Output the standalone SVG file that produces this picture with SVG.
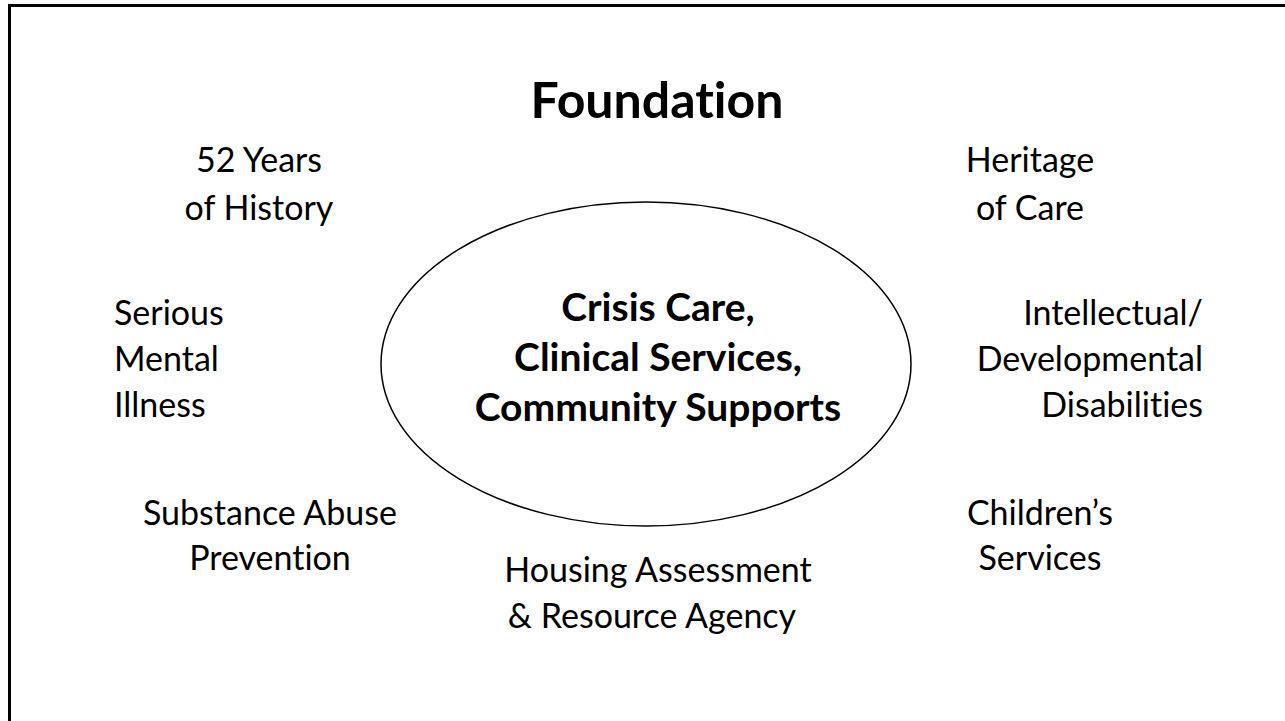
<svg xmlns="http://www.w3.org/2000/svg" width="1285" height="721" viewBox="0 0 1285 721">
<style>
.t{font-family:Lato,"Liberation Sans",sans-serif;font-size:34px;fill:#000;font-variant-ligatures:none}
.b{font-family:Lato,"Liberation Sans",sans-serif;font-weight:bold;fill:#000;font-variant-ligatures:none}
.m{text-anchor:middle}
.e{text-anchor:end}
</style>
<rect width="1285" height="721" fill="#fff"/>
<g id="frame">
<path d="M9.5,721 V5.5 H1285" fill="none" stroke="#000" stroke-width="3"/>
</g>
<g id="title"><text class="b m" x="657" y="118" font-size="50">Foundation</text></g>
<g id="center">
<ellipse cx="646" cy="364" rx="265" ry="162" fill="none" stroke="#000" stroke-width="1.5"/>
<text class="b m" x="658" y="321" font-size="39">Crisis Care,</text>
<text class="b m" x="658" y="371" font-size="39">Clinical Services,</text>
<text class="b m" x="658" y="421" font-size="39">Community Supports</text>
</g>
<g id="history"><text class="t m" x="259" y="172">52 Years</text><text class="t m" x="259" y="220">of History</text></g>
<g id="heritage"><text class="t m" x="1030" y="172">Heritage</text><text class="t m" x="1030" y="220">of Care</text></g>
<g id="smi"><text class="t" x="114" y="325">Serious</text><text class="t" x="114" y="371">Mental</text><text class="t" x="114" y="417">Illness</text></g>
<g id="idd"><text class="t e" x="1203" y="325">Intellectual/</text><text class="t e" x="1203" y="371">Developmental</text><text class="t e" x="1203" y="417">Disabilities</text></g>
<g id="sap"><text class="t m" x="270" y="525">Substance Abuse</text><text class="t m" x="270" y="570">Prevention</text></g>
<g id="children"><text class="t m" x="1040" y="525">Children’s</text><text class="t m" x="1040" y="570">Services</text></g>
<g id="harra"><text class="t m" x="658" y="582">Housing Assessment</text><text class="t m" x="652" y="628">&amp; Resource Agency</text></g>
<g id="connectors"/>
</svg>
